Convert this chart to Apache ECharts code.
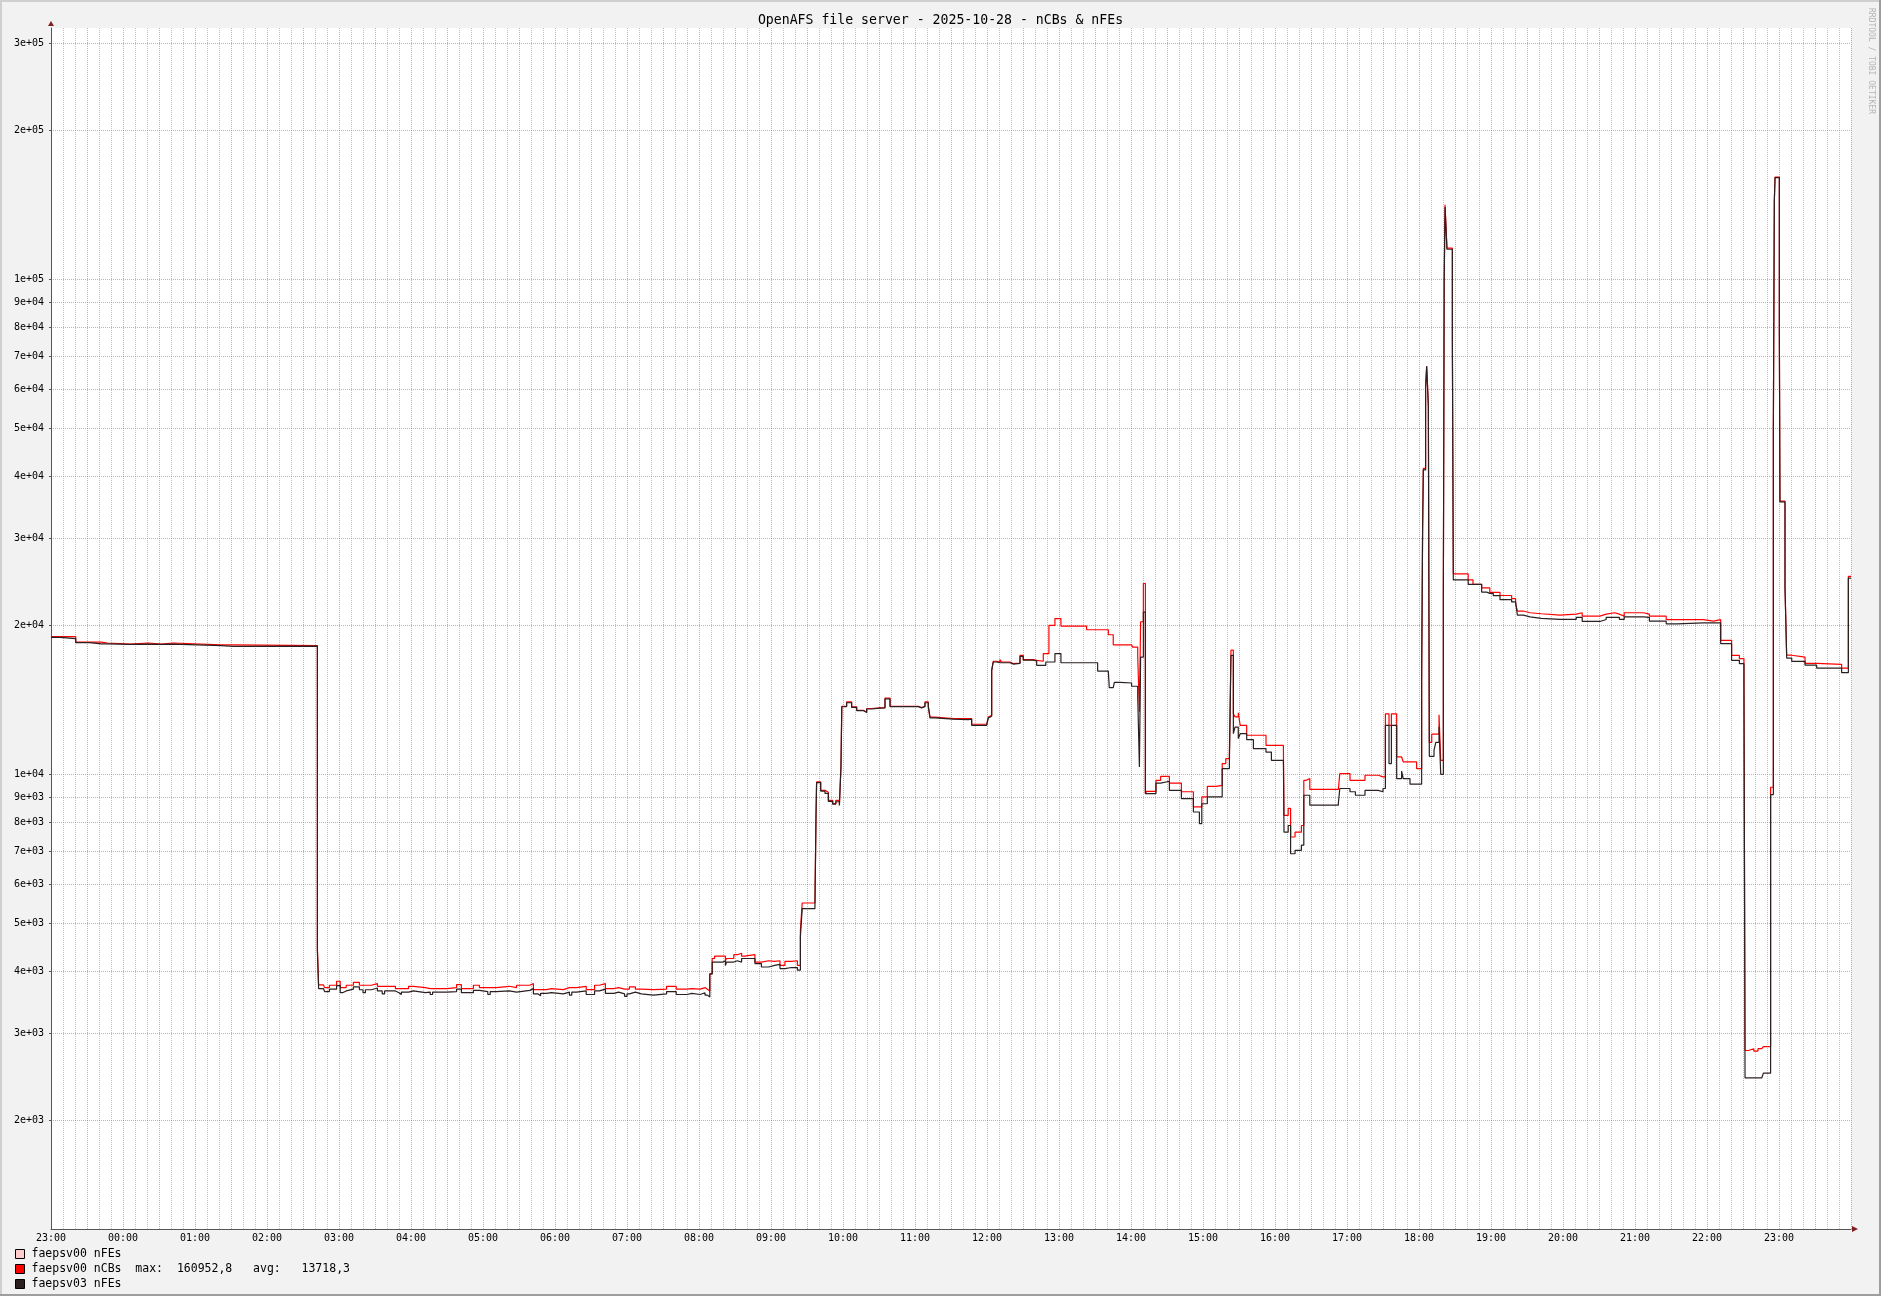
<!DOCTYPE html>
<html><head><meta charset="utf-8">
<script src="https://cdn.jsdelivr.net/npm/echarts@6/dist/echarts.min.js"></script>
<style>html,body{margin:0;padding:0;background:#f2f2f2}#c{width:1881px;height:1296px}</style>
</head><body><div id="c"></div>
<script>
// minutes since 2025-10-27 23:00
const times = [
0, 7.5, 20.6, 32, 42, 47, 66, 81, 92, 102, 142, 152, 222, 223,
227, 228, 232, 238, 241, 243, 246, 252, 257, 260, 262, 267, 272, 276, 278, 287, 290, 292, 298, 302,
312, 316, 318, 330, 338, 342, 352, 357, 364, 366, 371, 382, 388, 399, 402, 406, 408, 413, 417, 427,
432, 434, 438, 446, 453, 457, 462, 469, 473, 478, 480, 482, 487, 492, 502, 513, 521, 530, 534, 541,
545, 547,
549, 551, 553, 560, 562, 563, 569, 572, 575.5, 578, 586.6, 592, 598, 603, 607.5, 611.6, 617, 622, 624.5, 626,
636.6, 637.5, 638, 641.4, 645, 647.8, 651.4, 654, 657, 658.3, 659, 663, 667.2, 671.4, 676.9, 679.7, 683.9, 690.8, 695, 699.2,
722.7, 725.5, 728.3, 731.1, 732.5, 736.6, 751.9, 753.3, 764.4, 767.2, 779.7, 781.1, 782.5, 783.9, 785.2, 788, 790.8, 792.2, 799.1, 801.9,
807.5, 810.2, 818.6, 821.4, 826.9, 829, 831.6, 836.6, 841.6, 863, 872.2, 881.1, 881.9, 885.2, 886.1, 891, 900.5, 901.4, 905.6, 907,
908, 910.3, 912, 913, 920.8, 924.7, 932, 942, 952, 957, 959, 963.6, 971, 976, 979, 982, 983.3, 985.3, 986.7, 989.4,
991, 996.4, 1002, 1012.5, 1017, 1027, 1027.5, 1031, 1033, 1036.7, 1042, 1044, 1046, 1049, 1072.8, 1074, 1082.5, 1087, 1095, 1106,
1110, 1112, 1115, 1117, 1121.4, 1125.5, 1126.9, 1132.5, 1138, 1142.2, 1143, 1143.6, 1145.5, 1146.4, 1147.8, 1148.6, 1150.6, 1152.5, 1154, 1156.7,
1158.1, 1160.3, 1161, 1161.7, 1163.3, 1167.8, 1168.6, 1181, 1185, 1192.2, 1196.4, 1199, 1201.9, 1207.5, 1217.2, 1220.5, 1222, 1227, 1232.5, 1242,
1257.5, 1271, 1276, 1290.8, 1296, 1303, 1307, 1311, 1327, 1332, 1346, 1355, 1377, 1385.3, 1391.4, 1400.5, 1407, 1410.8, 1411.7, 1414.5,
1419, 1422.5, 1425.6, 1427, 1433, 1435.3, 1436.1, 1436.7, 1440.3, 1440.8, 1445, 1446.4, 1450.6, 1461.7, 1471.4, 1492.2, 1497.8, 1500
];
// faepsv00 nCBs (red)
const nCBs00 = [
18980, 18980, 18500, 18500, 18420, 18330, 18420, 18330, 18420, 18250, 18250, 18200, 4446, 3756,
3730, 3707, 3748, 3818, 3707, 3707, 3748, 3800, 3748, 3748, 3748, 3777, 3730, 3730, 3730, 3690, 3690, 3690, 3730, 3707,
3690, 3690, 3690, 3707, 3760, 3690, 3748, 3707, 3707, 3707, 3730, 3707, 3748, 3777, 3673, 3673, 3673, 3690, 3673, 3707,
3707, 3707, 3730, 3673, 3748, 3777, 3690, 3707, 3680, 3680, 3680, 3720, 3680, 3673, 3680, 3730, 3680, 3690, 3680, 3707,
3680, 3650,
3950, 4245, 4290, 4290, 4200, 4245, 4320, 4350, 4290, 4320, 4175, 4200, 4190, 4200, 4110, 4190, 4200, 4110, 4838, 5495,
5460, 8216, 9650, 9283, 9200, 8860, 8724, 8860, 8724, 10350, 13720, 14000, 13680, 13470, 13360, 13580, 13620, 13640, 14260, 13720,
13640, 13720, 14000, 13720, 13050, 12950, 12850, 12950, 12950, 12620, 12620, 13050, 13160, 16220, 16920, 16860, 17050, 16860, 16730, 16780,
17390, 17050, 16995, 16920, 17530, 17530, 20000, 20630, 19930, 19590, 19590, 19140, 19140, 18260, 18260, 18260, 18260, 18060, 17380, 13370,
20330, 24290, 9140, 9240, 9725, 9900, 9600, 9220, 8590, 8590, 9000, 9450, 9500, 10510, 10760, 11010, 17810, 13250, 13060, 13310,
12560, 11990, 11990, 11440, 11440, 11300, 8260, 8530, 7470, 7640, 7880, 9725, 9800, 9320, 9320, 10030, 9725, 9725, 9955, 9880,
9880, 13250, 12560, 13250, 10840, 10930, 10590, 10590, 10270, 16000, 31400, 41500, 60800, 66700, 55500, 11600, 12050, 12050, 12050, 13190,
10670, 23800, 100000, 141400, 115600, 75800, 25400, 24700, 24200, 23800, 23800, 23300, 23300, 22970, 22640, 22100, 21370, 21200, 21100, 20960,
21060, 21200, 20870, 21060, 21200, 21060, 20870, 21200, 21070, 20870, 20530, 20530, 20390, 20530, 18650, 17380, 17130, 15370, 2767, 2790,
2760, 2790, 2800, 2818, 9415, 49600, 144000, 160952.8, 77200, 35630, 23900, 17400, 17250, 16760, 16680, 16380, 25100, 25100
];
// faepsv03 nFEs (black)
const nFEs03 = [
18900, 18800, 18450, 18350, 18350, 18300, 18330, 18300, 18330, 18200, 18130, 18150, 4396, 3690,
3660, 3640, 3680, 3740, 3620, 3650, 3680, 3720, 3670, 3620, 3670, 3700, 3650, 3600, 3650, 3620, 3590, 3630, 3650, 3620,
3630, 3590, 3630, 3640, 3680, 3620, 3660, 3640, 3590, 3640, 3650, 3630, 3660, 3690, 3600, 3570, 3610, 3620, 3600, 3630,
3580, 3630, 3650, 3590, 3650, 3680, 3610, 3630, 3600, 3560, 3600, 3630, 3600, 3580, 3600, 3640, 3590, 3610, 3590, 3620,
3580, 3550,
3950, 4175, 4175, 4200, 4110, 4175, 4200, 4175, 4245, 4245, 4145, 4080, 4110, 4130, 4050, 4070, 4070, 4020, 4700, 5353,
5353, 8216, 9620, 9250, 9150, 8820, 8700, 8800, 8650, 10350, 13690, 13950, 13650, 13450, 13330, 13550, 13600, 13620, 14200, 13700,
13620, 13700, 13950, 13700, 13000, 12930, 12830, 12900, 12930, 12560, 12600, 13000, 13100, 16200, 16860, 16800, 16950, 16800, 16700, 16750,
17300, 17000, 16950, 16600, 16600, 16860, 16860, 17530, 16800, 16800, 16160, 16160, 14960, 14960, 15330, 15290, 15060, 15060, 14370, 10340,
17240, 21270, 9140, 9140, 9600, 9680, 9280, 8930, 8390, 7950, 8720, 9000, 9000, 10270, 10270, 10600, 17380, 12080, 12450, 11810,
12080, 11750, 11270, 11090, 10670, 10590, 7640, 7880, 6910, 7020, 7190, 9070, 9070, 8660, 8750, 9360, 9220, 9070, 9280, 9220,
9360, 12560, 10510, 12560, 9800, 10150, 9800, 9550, 9550, 15400, 31000, 41200, 60500, 66700, 55500, 10870, 10870, 11180, 11600, 12480,
10000, 23800, 100000, 140000, 115000, 75800, 24700, 24200, 24200, 23340, 23200, 23200, 22950, 22530, 22300, 22100, 20960, 20800, 20650, 20550,
20550, 20750, 20360, 20550, 20750, 20750, 20550, 20800, 20750, 20390, 20140, 20220, 20220, 20220, 18360, 16990, 16730, 15370, 2435, 2435,
2435, 2435, 2450, 2490, 9100, 49600, 144000, 160500, 77200, 35500, 23880, 17170, 16910, 16610, 16380, 16040, 24900, 24900
];
// faepsv00 nFEs: no visible line in the reference plot
const nFEs00 = [];

const seriesNames = ['faepsv00 nFEs', 'faepsv00 nCBs', 'faepsv03 nFEs'];
const nCBsMax = '160952,8';
const nCBsAvg = '13718,3';
const hourLabels = ['23:00','00:00','01:00','02:00','03:00','04:00','05:00','06:00','07:00','08:00','09:00','10:00','11:00',
  '12:00','13:00','14:00','15:00','16:00','17:00','18:00','19:00','20:00','21:00','22:00','23:00'];
const yTickValues = [2000,3000,4000,5000,6000,7000,8000,9000,10000,20000,30000,40000,50000,60000,70000,80000,90000,100000,200000,300000];
const yTickLabels = ['2e+03','3e+03','4e+03','5e+03','6e+03','7e+03','8e+03','9e+03','1e+04','2e+04','3e+04','4e+04','5e+04','6e+04','7e+04','8e+04','9e+04','1e+05','2e+05','3e+05'];

if (times.length !== nCBs00.length || times.length !== nFEs03.length) {
  console.error('length mismatch', times.length, nCBs00.length, nFEs03.length);
}

const MONO = '"DejaVu Sans Mono", monospace';
const chart = echarts.init(document.getElementById('c'), null, {renderer: 'canvas'});

function yLabel(v) {
  let best = 0;
  for (let i = 1; i < yTickValues.length; i++) {
    if (Math.abs(Math.log(v / yTickValues[i])) < Math.abs(Math.log(v / yTickValues[best]))) best = i;
  }
  return yTickLabels[best];
}

const majorGrid = {color: 'rgba(222,79,79,0.55)', type: [1, 1], width: 1};
const minorGrid = {color: 'rgba(143,143,143,0.55)', type: [1, 1], width: 1};

chart.setOption({
  backgroundColor: '#f2f2f2',
  animation: false,
  title: {
    text: 'OpenAFS file server - 2025-10-28 - nCBs & nFEs',
    left: 'center', top: 14, padding: 0,
    textStyle: {fontFamily: MONO, fontSize: 13.2, fontWeight: 'normal', color: '#000'}
  },
  grid: {left: 51, top: 28, width: 1800, height: 1201, show: true, backgroundColor: '#ffffff', borderWidth: 0},
  legend: {
    orient: 'vertical', left: 15, top: 1248, padding: 0,
    itemWidth: 9, itemHeight: 9, itemGap: 3, icon: 'rect', selectedMode: false,
    itemStyle: {borderColor: '#000', borderWidth: 1},
    textStyle: {fontFamily: MONO, fontSize: 11.5, color: '#000', padding: [0, 0, 0, 2]},
    formatter: function (name) {
      return name === 'faepsv00 nCBs' ? name + '  max:  ' + nCBsMax + '   avg:   ' + nCBsAvg : name;
    },
    data: seriesNames
  },
  xAxis: {
    type: 'value', min: 0, max: 1500, interval: 30,
    axisLine: {show: true, onZero: false, lineStyle: {color: '#555', width: 1}},
    axisTick: {show: false},
    axisLabel: {
      fontFamily: MONO, fontSize: 10, color: '#000', margin: 4,
      formatter: function (v) { return (v % 60 === 0 && v < 1500) ? hourLabels[v / 60] : ''; }
    },
    splitLine: {show: true, lineStyle: majorGrid},
    minorTick: {show: false, splitNumber: 3},
    minorSplitLine: {show: true, lineStyle: minorGrid}
  },
  yAxis: {
    type: 'log', logBase: 10, min: 1206, max: 321900,
    axisLine: {show: true, lineStyle: {color: '#555', width: 1}},
    axisTick: {show: true, length: 2, customValues: yTickValues, lineStyle: {color: '#555'}},
    axisLabel: {customValues: yTickValues, fontFamily: MONO, fontSize: 10, color: '#000', margin: 7, formatter: yLabel},
    splitLine: {show: true, lineStyle: majorGrid},
    minorSplitLine: {show: false}
  },
  series: [
    {name: seriesNames[0], type: 'line', step: 'end', data: nFEs00, showSymbol: false, symbol: 'none',
     color: '#ffcccc', lineStyle: {width: 1, color: '#ffcccc'}},
    {name: seriesNames[1], type: 'line', step: 'end', data: times.map((t, i) => [t, nCBs00[i]]), showSymbol: false, symbol: 'none',
     color: '#ff0000', lineStyle: {width: 1.2, color: '#ff0000'}},
    {name: seriesNames[2], type: 'line', step: 'end', data: times.map((t, i) => [t, nFEs03[i]]), showSymbol: false, symbol: 'none',
     color: '#2b1f1f', lineStyle: {width: 1.2, color: '#2b1f1f'}}
  ],
  graphic: [
    {type: 'rect', silent: true, shape: {x: 0, y: 0, width: 1881, height: 2}, style: {fill: '#cfcfcf'}},
    {type: 'rect', silent: true, shape: {x: 0, y: 0, width: 2, height: 1296}, style: {fill: '#cfcfcf'}},
    {type: 'rect', silent: true, shape: {x: 0, y: 1294, width: 1881, height: 2}, style: {fill: '#9e9e9e'}},
    {type: 'rect', silent: true, shape: {x: 1879, y: 0, width: 2, height: 1296}, style: {fill: '#9e9e9e'}},
    {type: 'polygon', silent: true, shape: {points: [[48, 26], [54, 26], [51, 21]]}, style: {fill: '#801f1f'}},
    {type: 'polygon', silent: true, shape: {points: [[1852, 1226], [1852, 1232], [1858, 1229]]}, style: {fill: '#801f1f'}},
    {type: 'text', silent: true, x: 1871, y: 8, rotation: -Math.PI / 2,
     style: {text: 'RRDTOOL / TOBI OETIKER', font: '8px "DejaVu Sans Mono"', fill: '#b5b5b5', textAlign: 'left', textVerticalAlign: 'middle'}}
  ]
});
</script>
</body></html>
